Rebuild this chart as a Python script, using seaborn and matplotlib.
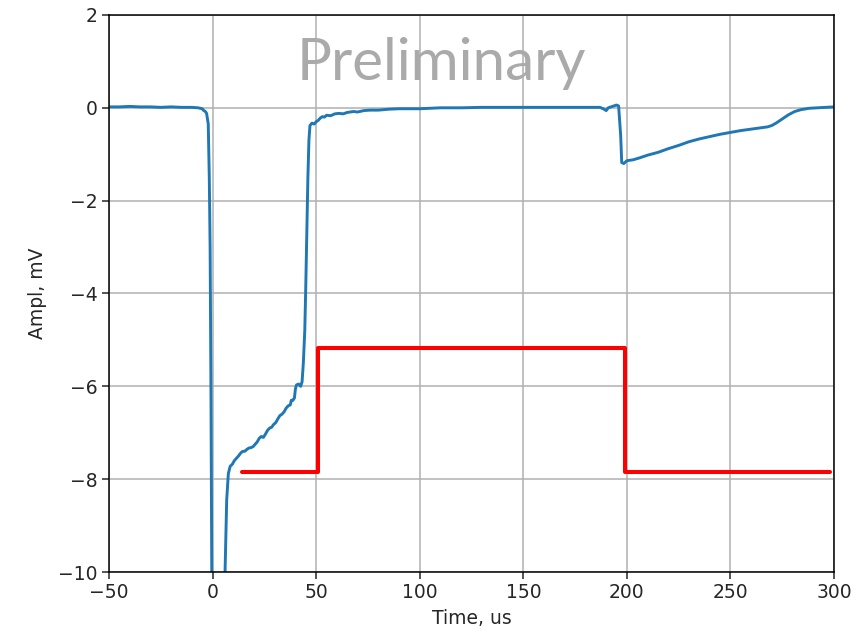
import numpy as np
import pandas as pd
import matplotlib
matplotlib.use("Agg")
import matplotlib.pyplot as plt
import seaborn as sns

# Recorded amplifier trace (time in us, amplitude in mV)
time_us = [-50, -45, -40, -35, -30, -25, -20, -15, -10, -7, -5, -4.5, -3.5, -2.9, -2.1, -1.6, -1.2,
           -0.8, -0.5, -0.3, 2, 5.5, 6.0, 6.5, 6.8, 7.6, 8.5, 9.5, 10.5, 11.5, 12.5, 13.5, 14.5,
           15.5, 16.5, 17.5, 18.5, 19.5, 20.5, 21.5, 22.5, 23.5, 24.5, 25.5, 26.5, 27.5, 28.5,
           29.5, 30.5, 31.5, 32.5, 33.5, 34.5, 35.5, 36.5, 37.5, 38, 38.8, 39.5, 40, 40.5, 41.5,
           42.5, 43.2, 43.8, 44.5, 45, 45.5, 46, 46.5, 47, 48, 49, 50, 51, 52, 53, 54, 55, 57,
           59, 61, 63, 65, 68, 70, 73, 76, 80, 85, 90, 100, 110, 120, 130, 140, 150, 160, 170,
           180, 187, 189, 190, 191, 193, 195, 196, 197, 197.5, 198.5, 200, 203, 206, 210, 215,
           220, 225, 230, 235, 240, 245, 250, 255, 260, 265, 268, 270, 272, 275, 278, 281, 284,
           288, 292, 296, 300]
ampl_mv = [0.02, 0.02, 0.03, 0.02, 0.02, 0.01, 0.02, 0.01, 0.01, 0.0, -0.02, -0.05, -0.08, -0.12,
           -0.35, -1.5, -3.0, -6.0, -9.0, -11.0, -14.0, -11.0, -10.0, -9.0, -8.45, -7.88, -7.72,
           -7.68, -7.6, -7.55, -7.5, -7.44, -7.4, -7.4, -7.36, -7.33, -7.32, -7.3, -7.25, -7.2,
           -7.12, -7.08, -7.1, -7.03, -6.95, -6.9, -6.88, -6.82, -6.78, -6.7, -6.63, -6.6, -6.55,
           -6.47, -6.42, -6.4, -6.3, -6.3, -6.25, -6.05, -5.97, -5.95, -6.0, -5.9, -5.5, -4.8,
           -3.8, -2.6, -1.5, -0.7, -0.38, -0.33, -0.35, -0.3, -0.27, -0.22, -0.19, -0.2, -0.16,
           -0.17, -0.13, -0.12, -0.13, -0.1, -0.08, -0.09, -0.06, -0.05, -0.05, -0.03, -0.02,
           -0.02, 0.0, 0.0, 0.01, 0.01, 0.01, 0.01, 0.01, 0.01, 0.01, -0.03, -0.06, 0.0, 0.03,
           0.06, 0.04, -0.6, -1.18, -1.2, -1.14, -1.12, -1.08, -1.02, -0.96, -0.88, -0.81, -0.73,
           -0.67, -0.62, -0.57, -0.53, -0.49, -0.46, -0.43, -0.41, -0.38, -0.33, -0.24, -0.15,
           -0.08, -0.04, -0.01, 0.0, 0.01, 0.02]

# Gate window (step levels starting at each edge)
gate_t = [14, 51, 199, 298]
gate_level = [-7.85, -5.17, -7.85, -7.85]

x_ticks = [-50, 0, 50, 100, 150, 200, 250, 300]
y_ticks = [-10, -8, -6, -4, -2, 0, 2]

sns.set_theme(style="ticks")
plt.rcParams.update({
    "font.family": ["DejaVu Sans"],
    "font.size": 13.5,
    "axes.edgecolor": "black",
    "axes.linewidth": 1.1,
    "xtick.major.size": 4.7,
    "ytick.major.size": 4.7,
    "xtick.major.width": 1.1,
    "ytick.major.width": 1.1,
    "xtick.labelsize": 13.5,
    "ytick.labelsize": 13.5,
    "axes.labelsize": 13.5,
    "xtick.color": "#262626",
    "ytick.color": "#262626",
})

fig = plt.figure(figsize=(8.66, 6.37), dpi=100)
ax = fig.add_axes([0.1259, 0.102, 0.8372, 0.8745])

trace = pd.DataFrame({"t": time_us, "a": ampl_mv})
gate = pd.DataFrame({"t": gate_t, "a": gate_level})

sns.lineplot(data=trace, x="t", y="a", ax=ax, color="#1f77b4", linewidth=2.1,
             estimator=None, sort=False)
sns.lineplot(data=gate, x="t", y="a", ax=ax, color="#ff0000", linewidth=2.9,
             estimator=None, sort=False, drawstyle="steps-post")

ax.set_xlim(-50, 300)
ax.set_ylim(-10, 2)
ax.set_xticks(x_ticks)
ax.set_yticks(y_ticks)
ax.set_xticklabels([f"{v}".replace("-", "\u2212") for v in x_ticks])
ax.set_yticklabels([f"{v}".replace("-", "\u2212") for v in y_ticks])
ax.grid(True, color="#b0b0b0", linewidth=1.1)
ax.set_axisbelow(True)
for s in ax.spines.values():
    s.set_visible(True)
    s.set_color("black")

ax.set_xlabel("Time, us", color="#262626", labelpad=5)
ax.set_ylabel("Ampl, mV", color="#262626", labelpad=8)

ax.text(0.458, 0.913, "Preliminary", transform=ax.transAxes, ha="center", va="center",
        fontsize=42, color="#aaaaaa", family=["Lato", "DejaVu Sans"])

fig.savefig("out.png", dpi=100)
